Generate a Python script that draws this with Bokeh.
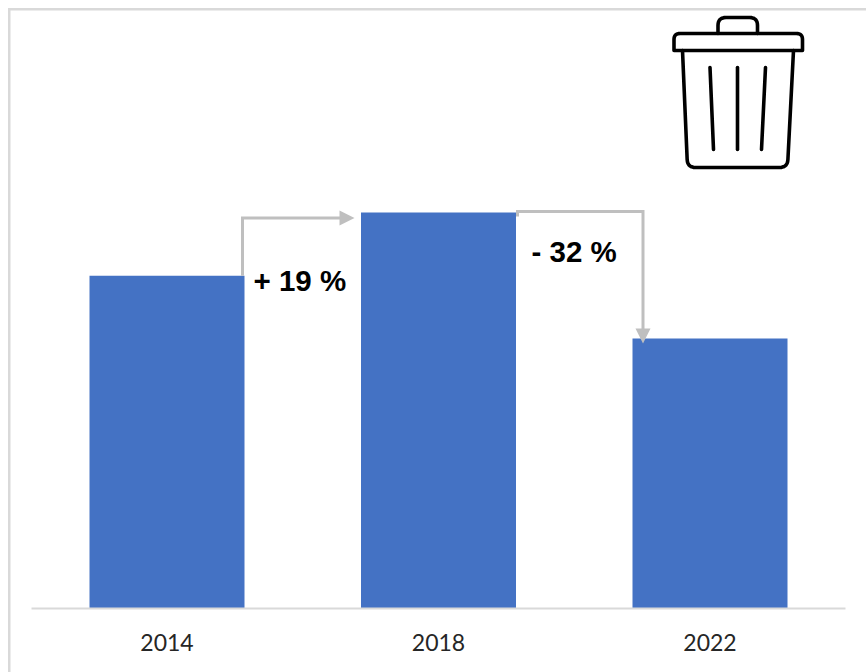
from bokeh.core.properties import value
from bokeh.embed import file_html
from bokeh.models import BoxAnnotation, ColumnDataSource, FixedTicker, Range1d
from bokeh.plotting import figure
from bokeh.resources import INLINE
import numpy as np

years = ["2014", "2018", "2022"]
totals = [84.0, 100.0, 68.2]
change_labels = ["+ 19 %", "- 32 %"]

BAR_BLUE = "#4472C4"
RULE_GREY = "#D9D9D9"
ARROW_GREY = "#BFBFBF"

WIDTH, HEIGHT = 866, 672
FRAME_BOTTOM = 608
PX_PER_CAT = 271.5
PX_PER_UNIT = 3.96
ZERO_CAT_PX = 166.5

p = figure(
    width=WIDTH, height=HEIGHT, output_backend="svg", toolbar_location=None,
    x_range=Range1d(-ZERO_CAT_PX / PX_PER_CAT, (WIDTH - ZERO_CAT_PX) / PX_PER_CAT),
    y_range=Range1d(0, FRAME_BOTTOM / PX_PER_UNIT),
    min_border_left=0, min_border_right=0, min_border_top=0,
    min_border_bottom=HEIGHT - FRAME_BOTTOM,
    outline_line_color=None, background_fill_color=None, border_fill_color=None,
)
# Left page rule runs past the plot frame, so it sits behind the transparent canvas.
p.styles = {
    "background-color": "white",
    "background-image": f"linear-gradient({RULE_GREY}, {RULE_GREY})",
    "background-repeat": "no-repeat",
    "background-size": f"2.5px {HEIGHT - 7.5}px",
    "background-position": "8px 7.5px",
}
p.grid.visible = False
p.yaxis.visible = False

# Category axis: a real axis with year labels, bounded to the plot's extent.
ax = p.xaxis[0]
ax.ticker = FixedTicker(ticks=[0, 1, 2])
ax.major_label_overrides = {i: y for i, y in enumerate(years)}
ax.bounds = (-0.5, 2.5)
ax.axis_line_color = RULE_GREY
ax.axis_line_width = 2
ax.major_tick_line_color = None
ax.minor_tick_line_color = None
ax.major_label_standoff = 19
ax.major_label_text_font = "Lato"
ax.major_label_text_font_size = "23px"
ax.major_label_text_color = "#262626"

source = ColumnDataSource(dict(x=[0, 1, 2], top=totals))
p.vbar(x="x", top="top", bottom=0, width=155 / PX_PER_CAT, source=source,
       fill_color=BAR_BLUE, line_color=None)

# Pixel-based ranges for the decorative icon.
p.extra_x_ranges["px"] = Range1d(0, WIDTH)
p.extra_y_ranges["px"] = Range1d(FRAME_BOTTOM, 0)


def cat_x(px):
    return (px - ZERO_CAT_PX) / PX_PER_CAT


def val_y(px):
    return (FRAME_BOTTOM - px) / PX_PER_UNIT


def arrow(xs, ys, head, **kw):
    p.line(xs, ys, line_color=ARROW_GREY, line_width=3, line_join="miter", **kw)
    p.patch(head[0], head[1], fill_color=ARROW_GREY, line_color=None)


# Elbow connector from 2014 up to 2018.
arrow([cat_x(242), cat_x(242), cat_x(342)],
      [totals[0], val_y(217.5), val_y(217.5)],
      ([cat_x(339), cat_x(354), cat_x(339)],
       [val_y(210), val_y(217.5), val_y(225)]))
# Elbow connector from 2018 down to 2022.
arrow([cat_x(517), cat_x(517), cat_x(642.5), cat_x(642.5)],
      [val_y(216), val_y(211), val_y(211), val_y(332)],
      ([cat_x(635), cat_x(642.5), cat_x(650)],
       [val_y(328), val_y(343), val_y(328)]))

p.text([cat_x(253), cat_x(531)], [val_y(279.5), val_y(250.5)], text=change_labels,
       text_font=value("Liberation Sans"), text_font_style="bold",
       text_font_size="29.5px", text_color="black",
       text_align="left", text_baseline="alphabetic")


def rounded(points, radii, closed=False, steps=8):
    """Polyline through points with quadratic corner rounding."""
    pts = [np.array(pt, float) for pt in points]
    out = [pts[0]]
    for i in range(1, len(pts) - 1):
        a, b, c = pts[i - 1], pts[i], pts[i + 1]
        r = radii[i - 1]
        if r == 0:
            out.append(b)
            continue
        s = b + (a - b) / np.linalg.norm(a - b) * r
        e = b + (c - b) / np.linalg.norm(c - b) * r
        for t in np.linspace(0, 1, steps):
            out.append((1 - t) ** 2 * s + 2 * t * (1 - t) * b + t ** 2 * e)
    out.append(pts[-1])
    arr = np.array(out)
    return arr[:, 0].tolist(), arr[:, 1].tolist()


# Waste bin icon.
bin_parts = [
    rounded([(673.5, 50), (673.5, 33), (802, 33), (802, 50), (673.5, 50)], [6, 6, 0]),
    rounded([(717.5, 33), (717.5, 17), (757, 17), (757, 33)], [8, 8]),
    rounded([(682, 50), (687, 167), (787, 167), (793, 50)], [8, 8]),
    ([709.5, 713], [67, 149]),
    ([737, 737], [67, 149]),
    ([765, 761], [67, 149]),
]
for xs, ys in bin_parts:
    p.line(xs, ys, x_range_name="px", y_range_name="px", line_color="black",
           line_width=3.6, line_cap="round", line_join="round")

# Top page rule, measured upward from the axis.
p.add_layout(BoxAnnotation(left=8, right=WIDTH, top=FRAME_BOTTOM - 7.5, bottom=FRAME_BOTTOM - 10,
                           left_units="screen", right_units="screen",
                           top_units="screen", bottom_units="screen",
                           fill_color=RULE_GREY, fill_alpha=1, line_color=None))

open("out.html", "w").write(file_html(p, INLINE))
